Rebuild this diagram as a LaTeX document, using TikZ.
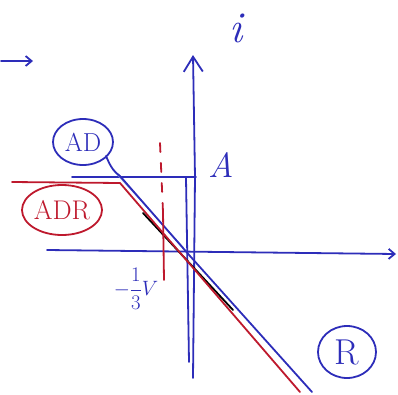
\documentclass[tikz,border=0pt]{standalone}
\usepackage{amsmath}
\usepackage{tikz}
\usetikzlibrary{arrows.meta}

\definecolor{penblue}{RGB}{45,45,185}
\definecolor{penred}{RGB}{190,25,45}
\definecolor{paleblue}{RGB}{120,140,225}

\begin{document}
\begin{tikzpicture}[
	x=1pt, y=-1pt,
	line cap=round,
	line join=round,
	pen/.style={line width=1.8pt},
	tag/.style={inner sep=0pt, font=\fontsize{26}{30}\selectfont}
	]
	
	\useasboundingbox (0,0) rectangle (398,394);
	
	% Small arrow at the left margin
	\draw[pen, penblue, -{Straight Barb[length=6pt,width=10pt]}] (1,61) -- (33,61);
	
	% Current axis
	\draw[pen, penblue, -{Straight Barb[length=15pt,width=19pt]}]
	(193,378) -- (195,177) -- (193,55);
	\node[tag, penblue, font=\fontsize{44}{48}\selectfont\itshape] (ilab) at (236,28) {i};
	
	% Voltage axis
	\draw[pen, penblue, -{Straight Barb[length=6pt,width=10pt]}] (47,250) -- (396,254);
	
	% Level A
	\draw[pen, penblue] (72,177) -- (196,177);
	\node[tag, penblue, font=\fontsize{35}{40}\selectfont\itshape] (alab) at (221,165) {A};
	
	% Steep branch of AD
	\draw[pen, penblue] (186,178) -- (188,300) -- (189,362);
	
	% Curve AD
	\draw[line width=0.8pt, paleblue] (113,170) -- (183,247);
	\draw[pen, penblue] (106,156) .. controls (110,165) and (112,170) .. (120,176)
	-- (190,256) -- (312,392);
	
	% Curve R
	\draw[pen, black] (143,213) -- (233,310);
	
	% Curve ADR
	\draw[pen, penred] (12,182) -- (120,183) -- (300,392);
	
	% Threshold -1/3 V
	\draw[pen, penred, dash pattern=on 9pt off 11pt] (160,143) -- (163,212);
	\draw[pen, penred] (163,212) -- (164,280);
	\node[tag, penblue, font=\fontsize{20}{24}\selectfont] (vlab) at (136,289)
	{$-\dfrac{1}{3}V$};
	
	% Labels
	\node[tag, penblue] (ad) at (83,142) {AD};
	\draw[pen, penblue] (ad) ellipse (30 and 23);
	\node[tag, penred, font=\fontsize{27}{30}\selectfont] (adr) at (62,210) {ADR};
	\draw[pen, penred] (adr) ellipse (40 and 25);
	\node[tag, penblue, font=\fontsize{36}{40}\selectfont] (r) at (347,352) {R};
	\draw[pen, penblue] (r) ellipse (29 and 26);
	
\end{tikzpicture}
\end{document}
